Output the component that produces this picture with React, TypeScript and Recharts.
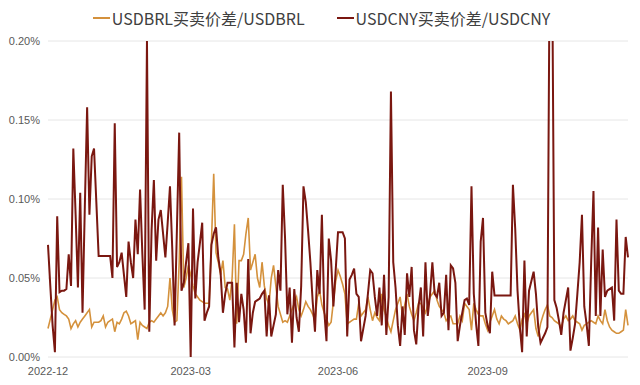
import { LineChart, Line, XAxis, YAxis, CartesianGrid, Legend } from 'recharts'

// one label per quarter, the tick sits on the first trading day of each block
const quarterLabels = ['2022-12', '2023-03', '2023-06', '2023-09']

// USDBRL bid-ask spread, % of price
const brlDecFeb = [
  0.018, 0.024, 0.030, 0.036, 0.038, 0.030, 0.028, 0.027, 0.026, 0.024,
  0.018, 0.021, 0.023, 0.019, 0.022, 0.024, 0.026, 0.028, 0.030, 0.019,
  0.022, 0.022, 0.022, 0.023, 0.026, 0.019, 0.022, 0.023, 0.024, 0.016,
  0.022, 0.021, 0.024, 0.028, 0.029, 0.026, 0.021, 0.022, 0.023, 0.011,
  0.022, 0.020, 0.019, 0.018, 0.022, 0.023, 0.022, 0.024, 0.026, 0.028,
  0.026, 0.028, 0.032, 0.050, 0.030, 0.022, 0.023, 0.060, 0.114, 0.044,
  0.050, 0.058,
]
const brlMarMay = [
  0.052, 0.045, 0.040, 0.038, 0.036, 0.035, 0.034, 0.034, 0.034, 0.072,
  0.116, 0.066, 0.060, 0.052, 0.061, 0.044, 0.043, 0.036, 0.050, 0.084,
  0.021, 0.061, 0.061, 0.065, 0.078, 0.088, 0.055, 0.060, 0.065, 0.050,
  0.044, 0.060, 0.045, 0.037, 0.033, 0.050, 0.058, 0.045, 0.032, 0.027,
  0.022, 0.023, 0.022, 0.026, 0.030, 0.034, 0.038, 0.030, 0.026, 0.030,
  0.035, 0.032, 0.030, 0.027, 0.023, 0.038, 0.042, 0.033, 0.028, 0.024,
  0.020, 0.022, 0.035, 0.048,
]
const brlJunAug = [
  0.055, 0.051, 0.046, 0.040, 0.021, 0.022, 0.023, 0.024, 0.024, 0.034,
  0.026, 0.028, 0.030, 0.038, 0.030, 0.023, 0.028, 0.025, 0.023, 0.040,
  0.030, 0.025, 0.020, 0.016, 0.023, 0.030, 0.034, 0.038, 0.026, 0.033,
  0.040, 0.032, 0.027, 0.023, 0.028, 0.034, 0.034, 0.031, 0.028, 0.033,
  0.038, 0.040, 0.042, 0.036, 0.032, 0.030, 0.028, 0.023, 0.025, 0.026,
  0.021, 0.021, 0.021, 0.026, 0.023, 0.034, 0.032, 0.030, 0.017, 0.034,
  0.030, 0.027, 0.026, 0.026, 0.021,
]
const brlSepNov = [
  0.017, 0.022, 0.026, 0.030, 0.024, 0.021, 0.026, 0.024, 0.023, 0.021,
  0.022, 0.023, 0.026, 0.021, 0.017, 0.024, 0.027, 0.021, 0.026, 0.028,
  0.030, 0.018, 0.013, 0.021, 0.026, 0.030, 0.033, 0.026, 0.025, 0.023,
  0.022, 0.021, 0.019, 0.024, 0.026, 0.023, 0.024, 0.026, 0.023, 0.022,
  0.021, 0.017, 0.020, 0.021, 0.022, 0.023, 0.022, 0.021, 0.026, 0.023,
  0.021, 0.030, 0.023, 0.019, 0.017, 0.016, 0.015, 0.015, 0.016, 0.017,
  0.030, 0.020,
]

// USDCNY bid-ask spread, % of price
const cnyDecFeb = [
  0.071, 0.045, 0.020, 0.003, 0.089, 0.041, 0.042, 0.042, 0.043, 0.065,
  0.045, 0.132, 0.090, 0.044, 0.104, 0.028, 0.095, 0.158, 0.090, 0.127,
  0.132, 0.098, 0.064, 0.064, 0.064, 0.064, 0.064, 0.064, 0.050, 0.148,
  0.057, 0.060, 0.066, 0.052, 0.038, 0.073, 0.060, 0.050, 0.087, 0.065,
  0.106, 0.065, 0.030, 0.200, 0.016, 0.080, 0.112, 0.061, 0.087, 0.093,
  0.078, 0.063, 0.085, 0.108, 0.068, 0.020, 0.080, 0.142, 0.042, 0.047,
  0.060, 0.072,
]
const cnyMarMay = [
  0.000, 0.094, 0.037, 0.060, 0.072, 0.085, 0.023, 0.028, 0.032, 0.071,
  0.078, 0.082, 0.063, 0.053, 0.028, 0.040, 0.047, 0.047, 0.047, 0.006,
  0.047, 0.022, 0.040, 0.030, 0.009, 0.062, 0.015, 0.028, 0.035, 0.036,
  0.037, 0.040, 0.042, 0.013, 0.039, 0.013, 0.020, 0.027, 0.055, 0.042,
  0.109, 0.075, 0.027, 0.044, 0.009, 0.043, 0.025, 0.016, 0.045, 0.108,
  0.098, 0.080, 0.060, 0.035, 0.016, 0.055, 0.040, 0.090, 0.030, 0.010,
  0.075, 0.061, 0.032, 0.055,
]
const cnyJunAug = [
  0.079, 0.079, 0.079, 0.075, 0.013, 0.049, 0.052, 0.056, 0.040, 0.038,
  0.010, 0.018, 0.026, 0.040, 0.055, 0.053, 0.038, 0.026, 0.044, 0.020,
  0.052, 0.014, 0.038, 0.168, 0.060, 0.044, 0.020, 0.007, 0.032, 0.014,
  0.053, 0.038, 0.057, 0.017, 0.008, 0.032, 0.044, 0.013, 0.060, 0.026,
  0.040, 0.060, 0.040, 0.038, 0.047, 0.026, 0.028, 0.052, 0.017, 0.058,
  0.056, 0.047, 0.010, 0.020, 0.028, 0.036, 0.037, 0.033, 0.108, 0.040,
  0.021, 0.007, 0.073, 0.088, 0.028,
]
const cnySepNov = [
  0.020, 0.015, 0.054, 0.039, 0.039, 0.039, 0.039, 0.039, 0.039, 0.039,
  0.039, 0.109, 0.081, 0.042, 0.019, 0.003, 0.061, 0.013, 0.042, 0.048,
  0.054, 0.040, 0.019, 0.009, 0.012, 0.015, 0.019, 0.260, 0.260, 0.036,
  0.031, 0.023, 0.014, 0.028, 0.036, 0.044, 0.004, 0.012, 0.021, 0.040,
  0.060, 0.090, 0.032, 0.021, 0.007, 0.060, 0.105, 0.026, 0.082, 0.026,
  0.068, 0.038, 0.042, 0.043, 0.044, 0.023, 0.087, 0.042, 0.040, 0.040,
  0.076, 0.063,
]

const yTicks = [0, 0.05, 0.1, 0.15, 0.2]

const brlBlocks = [brlDecFeb, brlMarMay, brlJunAug, brlSepNov]
const cnyBlocks = [cnyDecFeb, cnyMarMay, cnyJunAug, cnySepNov]

const data: { i: number; brl: number; cny: number }[] = []
const tickIdx: number[] = []
brlBlocks.forEach((block, q) => {
  tickIdx.push(data.length)
  block.forEach((v, j) => {
    data.push({ i: data.length, brl: v, cny: cnyBlocks[q][j] })
  })
})

const BRL_COLOR = '#d4913c'
const CNY_COLOR = '#7a1710'

function LegendRow({ payload }: any) {
  return (
    <div
      style={{
        display: 'flex',
        justifyContent: 'center',
        gap: 32,
        height: 24,
        paddingLeft: 15,
        fontFamily: '"Noto Sans CJK SC", sans-serif',
        fontSize: 16,
        color: '#404040',
        lineHeight: '24px',
      }}
    >
      {(payload || []).map((p: any) => (
        <span key={p.value} style={{ display: 'flex', alignItems: 'center' }}>
          <span style={{ width: 17, height: 2, background: p.color, marginRight: 2 }} />
          {p.value}
        </span>
      ))}
    </div>
  )
}

export default function App() {
  return (
    <div style={{ position: 'absolute', left: 0, top: 0, background: '#fff' }}>
      <LineChart width={640} height={385} data={data} margin={{ top: 17, right: 12, bottom: 0, left: 0 }}>
        <CartesianGrid vertical={false} stroke="#e6e6e6" />
        <XAxis
          dataKey="i"
          type="number"
          domain={[0, data.length - 1]}
          ticks={tickIdx}
          interval={0}
          tickFormatter={(v: number) => quarterLabels[tickIdx.indexOf(v)]}
          axisLine={false}
          tickLine={false}
          tickSize={0}
          tickMargin={10}
          height={28}
          tick={{ fill: '#595959', fontSize: 11, fontFamily: '"Liberation Sans", Arial, sans-serif' }}
        />
        <YAxis
          domain={[0, 0.2]}
          allowDataOverflow
          ticks={yTicks}
          interval={0}
          tickFormatter={(v: number) => v.toFixed(2) + '%'}
          axisLine={false}
          tickLine={false}
          tickSize={0}
          tickMargin={8}
          width={48}
          tick={{ fill: '#595959', fontSize: 11, fontFamily: '"Liberation Sans", Arial, sans-serif' }}
        />
        <Legend verticalAlign="top" content={<LegendRow />} wrapperStyle={{ top: 6 }} />
        <Line
          type="linear"
          dataKey="brl"
          name="USDBRL买卖价差/USDBRL"
          stroke={BRL_COLOR}
          strokeWidth={1.6}
          dot={false}
          isAnimationActive={false}
        />
        <Line
          type="linear"
          dataKey="cny"
          name="USDCNY买卖价差/USDCNY"
          stroke={CNY_COLOR}
          strokeWidth={2}
          dot={false}
          isAnimationActive={false}
        />
      </LineChart>
    </div>
  )
}
